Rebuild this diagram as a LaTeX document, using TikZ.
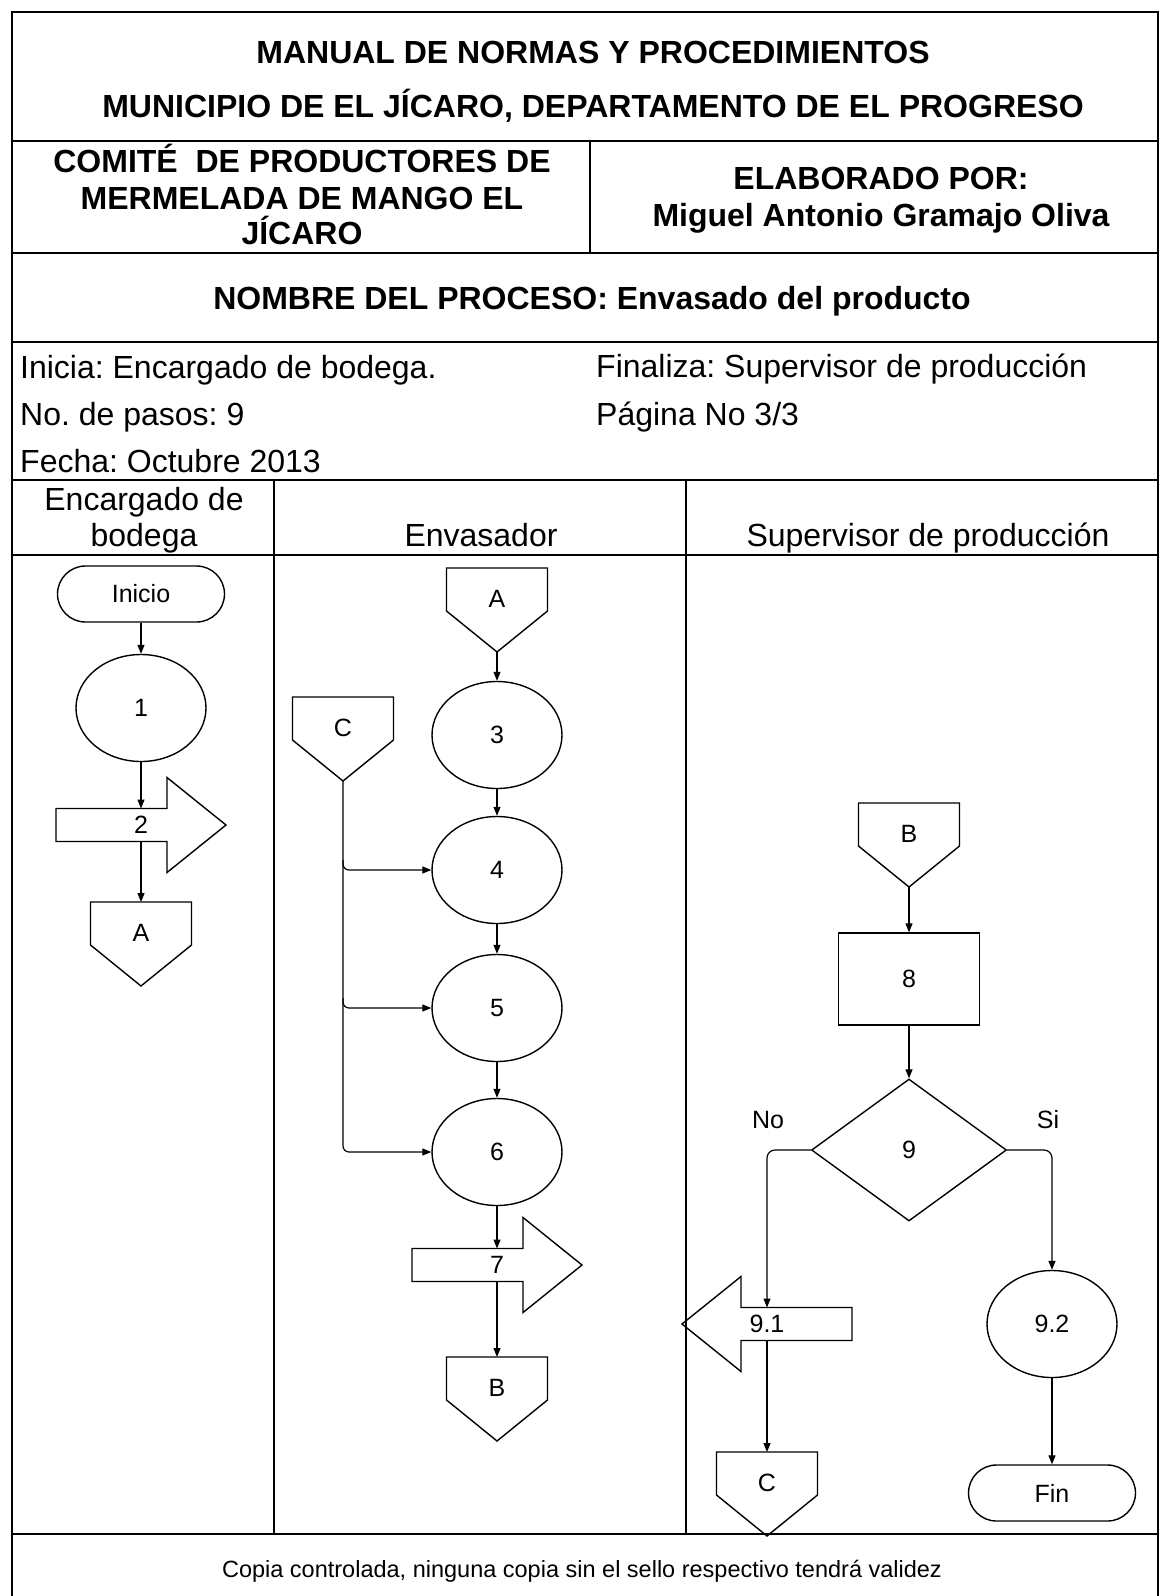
\documentclass[tikz,border=0pt]{standalone}
\usepackage{fontspec}
\setmainfont{Liberation Sans}
\usetikzlibrary{arrows.meta,shapes.geometric,calc}
\frenchspacing
\tikzset{
  frame/.style={line width=2pt},
  shp/.style={draw, line width=1.4pt},
  lblfont/.style={font=\fontsize{25}{30}\selectfont},
  lbl/.style={lblfont, inner sep=0pt},
  hd/.style={font=\bfseries\fontsize{32}{38}\selectfont, anchor=base, inner sep=0pt},
  tx/.style={font=\fontsize{32}{38}\selectfont, anchor=base, inner sep=0pt},
  arr/.style={line width=1.2pt, -{Triangle[length=9pt,width=7pt]}},
  ell/.style={shp, ellipse, minimum width=130pt, minimum height=107pt, inner sep=0pt, lblfont},
  term/.style={shp, rectangle, rounded corners=28pt, minimum width=167pt, minimum height=56pt, inner sep=0pt, lblfont},
}
% off-page connector: name, x, top y, label
\newcommand\offpg[4]{%
  \node[lbl] (#1) at (#2,{#3+31}) {#4};
  \draw[shp] ($(#1)+(-50.5,-31)$) -- ($(#1)+(50.5,-31)$) -- ($(#1)+(50.5,12)$)
    -- ($(#1)+(0,53)$) -- ($(#1)+(-50.5,12)$) -- cycle;
  \coordinate (#1t) at ($(#1)+(0,-31)$);
  \coordinate (#1b) at ($(#1)+(0,53)$);
}
% block arrow: name, cx, cy, label, direction (1 right, -1 left)
\newcommand\blkarr[5]{%
  \node[lbl] (#1) at (#2,#3) {#4};
  \draw[shp] ($(#1)+({#5*(-85)},-16.5)$) -- ($(#1)+({#5*26},-16.5)$)
    -- ($(#1)+({#5*26},-47.5)$) -- ($(#1)+({#5*85},0)$)
    -- ($(#1)+({#5*26},47.5)$) -- ($(#1)+({#5*26},16.5)$)
    -- ($(#1)+({#5*(-85)},16.5)$) -- cycle;
  \coordinate (#1n) at ($(#1)+(0,-16.5)$);
  \coordinate (#1s) at ($(#1)+(0,16.5)$);
}
\begin{document}
\begin{tikzpicture}[x=1pt,y=-1pt]
\useasboundingbox (0,0) rectangle (1161,1596);
% ---- frame ----
\draw[frame] (12,1596) -- (12,12) -- (1158,12) -- (1158,1596);
\draw[frame] (12,141) -- (1158,141);
\draw[frame] (590,141) -- (590,253);
\draw[frame] (12,253) -- (1158,253);
\draw[frame] (12,342) -- (1158,342);
\draw[frame] (12,480) -- (1158,480);
\draw[frame] (12,555) -- (1158,555);
\draw[frame] (274,480) -- (274,1534);
\draw[frame] (686,480) -- (686,1534);
\draw[frame] (12,1534) -- (1158,1534);
% ---- header texts ----
\node[hd] (t1) at (593,63) {MANUAL DE NORMAS Y PROCEDIMIENTOS};
\node[hd] (t2) at (593,117) {MUNICIPIO DE EL JÍCARO, DEPARTAMENTO DE EL PROGRESO};
\node[hd] (ca) at (302,172) {COMITÉ\ \ DE PRODUCTORES DE};
\node[hd] (cb) at (302,209) {MERMELADA DE MANGO EL};
\node[hd] (cc) at (302,244) {JÍCARO};
\node[hd] (ea) at (881,189) {ELABORADO POR:};
\node[hd] (eb) at (881,226) {Miguel Antonio Gramajo Oliva};
\node[hd] (np) at (592,309) {NOMBRE DEL PROCESO: Envasado del producto};
\node[tx, anchor=base west] (ia) at (20,378) {Inicia: Encargado de bodega.};
\node[tx, anchor=base west] (ib) at (20,425) {No. de pasos: 9};
\node[tx, anchor=base west] (ic) at (20,472) {Fecha: Octubre 2013};
\node[tx, anchor=base west] (fa) at (596,377) {Finaliza: Supervisor de producción};
\node[tx, anchor=base west] (fb) at (596,425) {Página No 3/3};
\node[tx] (ha) at (144,510) {Encargado de};
\node[tx] (hb) at (144,546) {bodega};
\node[tx] (hc) at (481,546) {Envasador};
\node[tx] (hd) at (928,546) {Supervisor de producción};
\node[tx, font=\fontsize{23.5}{28}\selectfont] (ft) at (582,1577) {Copia controlada, ninguna copia sin el sello respectivo tendrá validez};
% ---- lane 1 ----
\node[term] (ini) at (141,594) {Inicio};
\node[ell] (p1) at (141,708) {1};
\blkarr{p2}{141}{825}{2}{1}
\offpg{oa}{141}{902}{A}
% ---- lane 2 ----
\offpg{ob}{497}{568}{A}
\node[ell] (p3) at (497,735) {3};
\node[ell] (p4) at (497,870) {4};
\node[ell] (p5) at (497,1008) {5};
\node[ell] (p6) at (497,1152) {6};
\blkarr{p7}{497}{1265}{7}{1}
\offpg{oc}{497}{1357}{B}
\offpg{od}{343}{697}{C}
% ---- lane 3 ----
\offpg{oe}{909}{803}{B}
\node[shp, minimum width=141pt, minimum height=92pt, inner sep=0pt, lblfont] (p8) at (909,979) {8};
\node[shp, diamond, minimum width=195pt, minimum height=142pt, inner sep=0pt, lblfont] (p9) at (909,1150) {9};
\blkarr{p91}{767}{1324}{9.1}{-1}
\node[ell] (p92) at (1052,1324) {9.2};
\node[term] (fin) at (1052,1493) {Fin};
\offpg{of}{767}{1452}{C}
\node[lbl] (no) at (768,1120) {No};
\node[lbl] (si) at (1048,1120) {Si};
% ---- connectors ----
\draw[arr] (ini.south) -- (p1.north);
\draw[arr] (p1.south) -- (p1.south |- p2n);
\draw[arr] (p2s) -- (oat);
\draw[arr] (obb) -- (p3.north);
\draw[arr] (p3.south) -- (p4.north);
\draw[arr] (p4.south) -- (p5.north);
\draw[arr] (p5.south) -- (p6.north);
\draw[arr] (p6.south) -- (p7n);
\draw[arr] (p7s) -- (oct);
\draw[arr, rounded corners=6pt] (odb) |- (p6.west);
\draw[arr, rounded corners=6pt] ($(odb |- p4.west)+(0,-10)$) |- (p4.west);
\draw[arr, rounded corners=6pt] ($(odb |- p5.west)+(0,-10)$) |- (p5.west);
\draw[arr] (oeb) -- (p8.north);
\draw[arr] (p8.south) -- (p9.north);
\draw[arr, rounded corners=8pt] (p9.west) -| (p91n);
\draw[arr] (p91s) -- (oft);
\draw[arr, rounded corners=8pt] (p9.east) -| (p92.north);
\draw[arr] (p92.south) -- (fin.north);
\end{tikzpicture}
\end{document}
